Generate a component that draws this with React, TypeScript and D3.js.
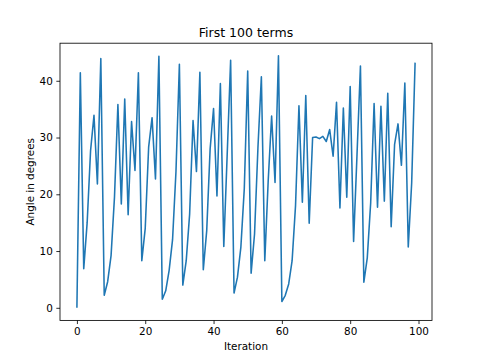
import * as d3 from 'd3';
import React, { useEffect, useRef } from 'react';

// angle values, one per iteration
const angles = [
  0, 41.4, 6.9, 15, 27.7, 33.9, 21.8, 43.9, 2.2, 4.6,
  9.2, 19.5, 35.8, 18.3, 36.8, 16.4, 32.8, 24.2, 41.4, 8.3,
  14, 28.3, 33.5, 22.7, 44.3, 1.5, 3.0, 6.6, 12, 24,
  42.9, 4.0, 8.3, 16.5, 33.0, 24.0, 41.5, 6.7, 13.6, 28,
  35.1, 19.7, 39.5, 10.8, 27.1, 43.6, 2.6, 5.4, 10.7, 21,
  41.7, 6.1, 13.0, 28.3, 40.7, 8.3, 22.4, 33.8, 22.1, 44.4,
  1.1, 2.2, 4.2, 8.3, 18, 35.6, 18.6, 37.4, 14.9, 30.0,
  30.1, 29.8, 30.2, 29.3, 31.4, 26.7, 36.2, 17.6, 35.2, 19.5,
  39.0, 11.7, 27, 42.6, 4.5, 8.8, 18.5, 36.0, 17.7, 35.5,
  18.8, 37.8, 14.3, 28.8, 32.4, 25.1, 39.6, 10.7, 22, 43.2,
];
const xTicks = [0, 20, 40, 60, 80, 100];
const yTicks = [0, 10, 20, 30, 40];

const W = 480;
const H = 360;
const FONT = "'DejaVu Sans', sans-serif";

const Chart = () => {
  const ref = useRef<SVGSVGElement>(null);

  useEffect(() => {
    const svg = d3.select(ref.current);
    svg.selectAll('*').remove();

    const left = 60;
    const right = 432;
    const top = 43.2;
    const bottom = 320.4;

    const n = angles.length;
    const xPad = (n - 1) * 0.05;
    const yMin = d3.min(angles) as number;
    const yMax = d3.max(angles) as number;
    const yPad = (yMax - yMin) * 0.05;

    const x = d3.scaleLinear().domain([-xPad, n - 1 + xPad]).range([left, right]);
    const y = d3.scaleLinear().domain([yMin - yPad, yMax + yPad]).range([bottom, top]);

    const line = d3
      .line<number>()
      .x((_, i) => x(i))
      .y((d) => y(d));

    svg
      .append('path')
      .datum(angles)
      .attr('d', line)
      .attr('fill', 'none')
      .attr('stroke', '#1f77b4')
      .attr('stroke-width', 1.56)
      .attr('stroke-linejoin', 'round');

    // frame
    svg
      .append('rect')
      .attr('x', left)
      .attr('y', top)
      .attr('width', right - left)
      .attr('height', bottom - top)
      .attr('fill', 'none')
      .attr('stroke', 'black')
      .attr('stroke-width', 0.83);

    const xAxis = d3.axisBottom(x).tickValues(xTicks).tickSizeOuter(0).tickSize(3.65).tickPadding(3.6);
    const gx = svg.append('g').attr('transform', `translate(0,${bottom})`).call(xAxis);
    const yAxis = d3.axisLeft(y).tickValues(yTicks).tickSizeOuter(0).tickSize(3.65).tickPadding(3.6);
    const gy = svg.append('g').attr('transform', `translate(${left},0)`).call(yAxis);

    [gx, gy].forEach((g) => {
      g.select('.domain').remove();
      g.selectAll('line').attr('stroke', 'black').attr('stroke-width', 0.83);
      g.selectAll('text')
        .attr('fill', 'black')
        .style('font-family', FONT)
        .style('font-size', '10.4px');
    });

    svg
      .append('text')
      .attr('x', (left + right) / 2)
      .attr('y', 37)
      .attr('text-anchor', 'middle')
      .style('font-family', FONT)
      .style('font-size', '12.5px')
      .text('First 100 terms');

    svg
      .append('text')
      .attr('x', (left + right) / 2)
      .attr('y', 350)
      .attr('text-anchor', 'middle')
      .style('font-family', FONT)
      .style('font-size', '10.4px')
      .text('Iteration');

    svg
      .append('text')
      .attr('transform', `translate(33.5,${(top + bottom) / 2}) rotate(-90)`)
      .attr('text-anchor', 'middle')
      .style('font-family', FONT)
      .style('font-size', '10.4px')
      .text('Angle in degrees');
  }, []);

  return <svg ref={ref} width={W} height={H} style={{ display: 'block', background: 'white' }} />;
};

export default function App() {
  return (
    <div style={{ position: 'absolute', left: 0, top: 0 }}>
      <Chart />
    </div>
  );
}
